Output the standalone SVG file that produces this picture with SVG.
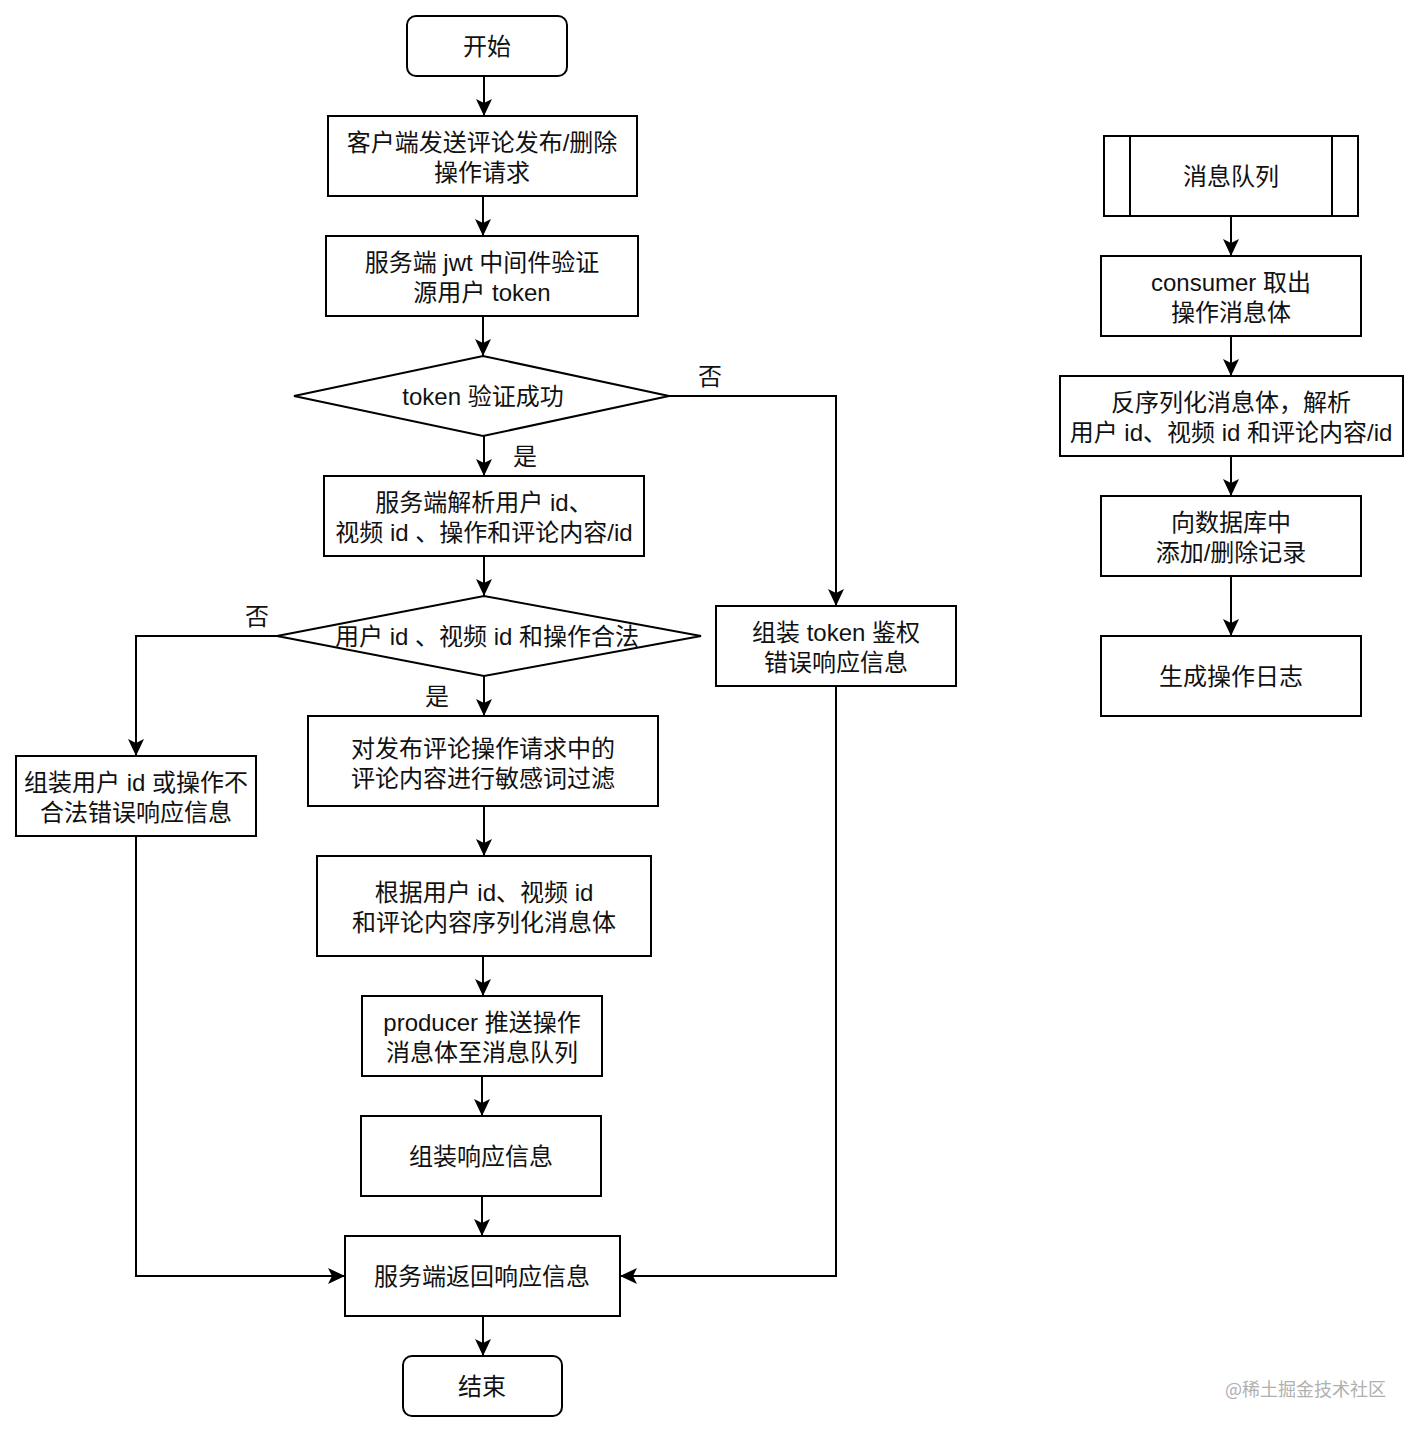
<svg xmlns="http://www.w3.org/2000/svg" width="1421" height="1434" viewBox="0 0 1421 1434">
<style>
.n{fill:#fff;stroke:#000;stroke-width:2}
.t{font-family:"Liberation Sans","Noto Sans CJK SC",sans-serif;font-size:24px;fill:#111;text-anchor:middle;dominant-baseline:central}
.c{fill:none;stroke:#000;stroke-width:2}
.wm{font-family:"Noto Sans CJK SC",sans-serif;font-size:18px;fill:#b0b0b0;dominant-baseline:central}
</style>
<defs>
<marker id="a" markerUnits="userSpaceOnUse" viewBox="-18 -9 19 18" refX="0" refY="0" markerWidth="19" markerHeight="18" orient="auto">
<path d="M-17,-8 L0,0 L-17,8 L-13,0 Z" fill="#000"/>
</marker>
</defs>
<rect width="1421" height="1434" fill="#fff"/>
<g id="connectors">
<path class="c" marker-end="url(#a)" d="M484,76 V116"/>
<path class="c" marker-end="url(#a)" d="M483,196 V236"/>
<path class="c" marker-end="url(#a)" d="M483,316 V356"/>
<path class="c" marker-end="url(#a)" d="M484,436 V476"/>
<path class="c" marker-end="url(#a)" d="M669,396 H836 V606"/>
<path class="c" marker-end="url(#a)" d="M484,556 V596"/>
<path class="c" marker-end="url(#a)" d="M277,636 H136 V756"/>
<path class="c" marker-end="url(#a)" d="M484,676 V716"/>
<path class="c" marker-end="url(#a)" d="M484,806 V856"/>
<path class="c" marker-end="url(#a)" d="M483,956 V996"/>
<path class="c" marker-end="url(#a)" d="M482,1076 V1116"/>
<path class="c" marker-end="url(#a)" d="M482,1196 V1236"/>
<path class="c" marker-end="url(#a)" d="M483,1316 V1356"/>
<path class="c" marker-end="url(#a)" d="M136,836 V1276 H345"/>
<path class="c" marker-end="url(#a)" d="M836,686 V1276 H620"/>
<path class="c" marker-end="url(#a)" d="M1231,216 V256"/>
<path class="c" marker-end="url(#a)" d="M1231,336 V376"/>
<path class="c" marker-end="url(#a)" d="M1231,456 V496"/>
<path class="c" marker-end="url(#a)" d="M1231,576 V636"/>
<text class="t" x="710" y="376">否</text>
<text class="t" x="525" y="456">是</text>
<text class="t" x="257" y="616">否</text>
<text class="t" x="437" y="696">是</text>
</g>
<g id="start"><rect class="n" x="407" y="16" width="160" height="60" rx="9"/><text class="t" x="487" y="46">开始</text></g>
<g id="send"><rect class="n" x="328" y="116" width="309" height="80"/><text class="t" x="482" y="142">客户端发送评论发布/删除</text><text class="t" x="482" y="172">操作请求</text></g>
<g id="jwt"><rect class="n" x="326" y="236" width="312" height="80"/><text class="t" x="482" y="262">服务端 jwt 中间件验证</text><text class="t" x="482" y="292">源用户 token</text></g>
<g id="tokenok"><polygon class="n" points="294,396 483,356 669,396 483,436"/><text class="t" x="483" y="396">token 验证成功</text></g>
<g id="parse"><rect class="n" x="324" y="476" width="320" height="80"/><text class="t" x="484" y="502">服务端解析用户 id、</text><text class="t" x="484" y="532">视频 id 、操作和评论内容/id</text></g>
<g id="valid"><polygon class="n" points="277,636 484,596 701,636 484,676"/><text class="t" x="487" y="636">用户 id 、视频 id 和操作合法</text></g>
<g id="tokenerr"><rect class="n" x="716" y="606" width="240" height="80"/><text class="t" x="836" y="632">组装 token 鉴权</text><text class="t" x="836" y="662">错误响应信息</text></g>
<g id="iderr"><rect class="n" x="16" y="756" width="240" height="80"/><text class="t" x="136" y="782">组装用户 id 或操作不</text><text class="t" x="136" y="812">合法错误响应信息</text></g>
<g id="filter"><rect class="n" x="308" y="716" width="350" height="90"/><text class="t" x="483" y="748">对发布评论操作请求中的</text><text class="t" x="483" y="778">评论内容进行敏感词过滤</text></g>
<g id="serialize"><rect class="n" x="317" y="856" width="334" height="100"/><text class="t" x="484" y="892">根据用户 id、视频 id</text><text class="t" x="484" y="922">和评论内容序列化消息体</text></g>
<g id="producer"><rect class="n" x="362" y="996" width="240" height="80"/><text class="t" x="482" y="1022">producer 推送操作</text><text class="t" x="482" y="1052">消息体至消息队列</text></g>
<g id="assemble"><rect class="n" x="361" y="1116" width="240" height="80"/><text class="t" x="481" y="1156">组装响应信息</text></g>
<g id="respond"><rect class="n" x="345" y="1236" width="275" height="80"/><text class="t" x="482" y="1276">服务端返回响应信息</text></g>
<g id="end"><rect class="n" x="403" y="1356" width="159" height="60" rx="9"/><text class="t" x="482" y="1386">结束</text></g>
<g id="mq"><rect class="n" x="1104" y="136" width="254" height="80"/><line class="c" x1="1130" y1="136" x2="1130" y2="216"/><line class="c" x1="1332" y1="136" x2="1332" y2="216"/><text class="t" x="1231" y="176">消息队列</text></g>
<g id="consumer"><rect class="n" x="1101" y="256" width="260" height="80"/><text class="t" x="1231" y="282">consumer 取出</text><text class="t" x="1231" y="312">操作消息体</text></g>
<g id="deserialize"><rect class="n" x="1060" y="376" width="343" height="80"/><text class="t" x="1231" y="402">反序列化消息体，解析</text><text class="t" x="1231" y="432">用户 id、视频 id 和评论内容/id</text></g>
<g id="db"><rect class="n" x="1101" y="496" width="260" height="80"/><text class="t" x="1231" y="522">向数据库中</text><text class="t" x="1231" y="552">添加/删除记录</text></g>
<g id="log"><rect class="n" x="1101" y="636" width="260" height="80"/><text class="t" x="1231" y="676">生成操作日志</text></g>
<text class="wm" x="1225" y="1388">@稀土掘金技术社区</text>
</svg>
